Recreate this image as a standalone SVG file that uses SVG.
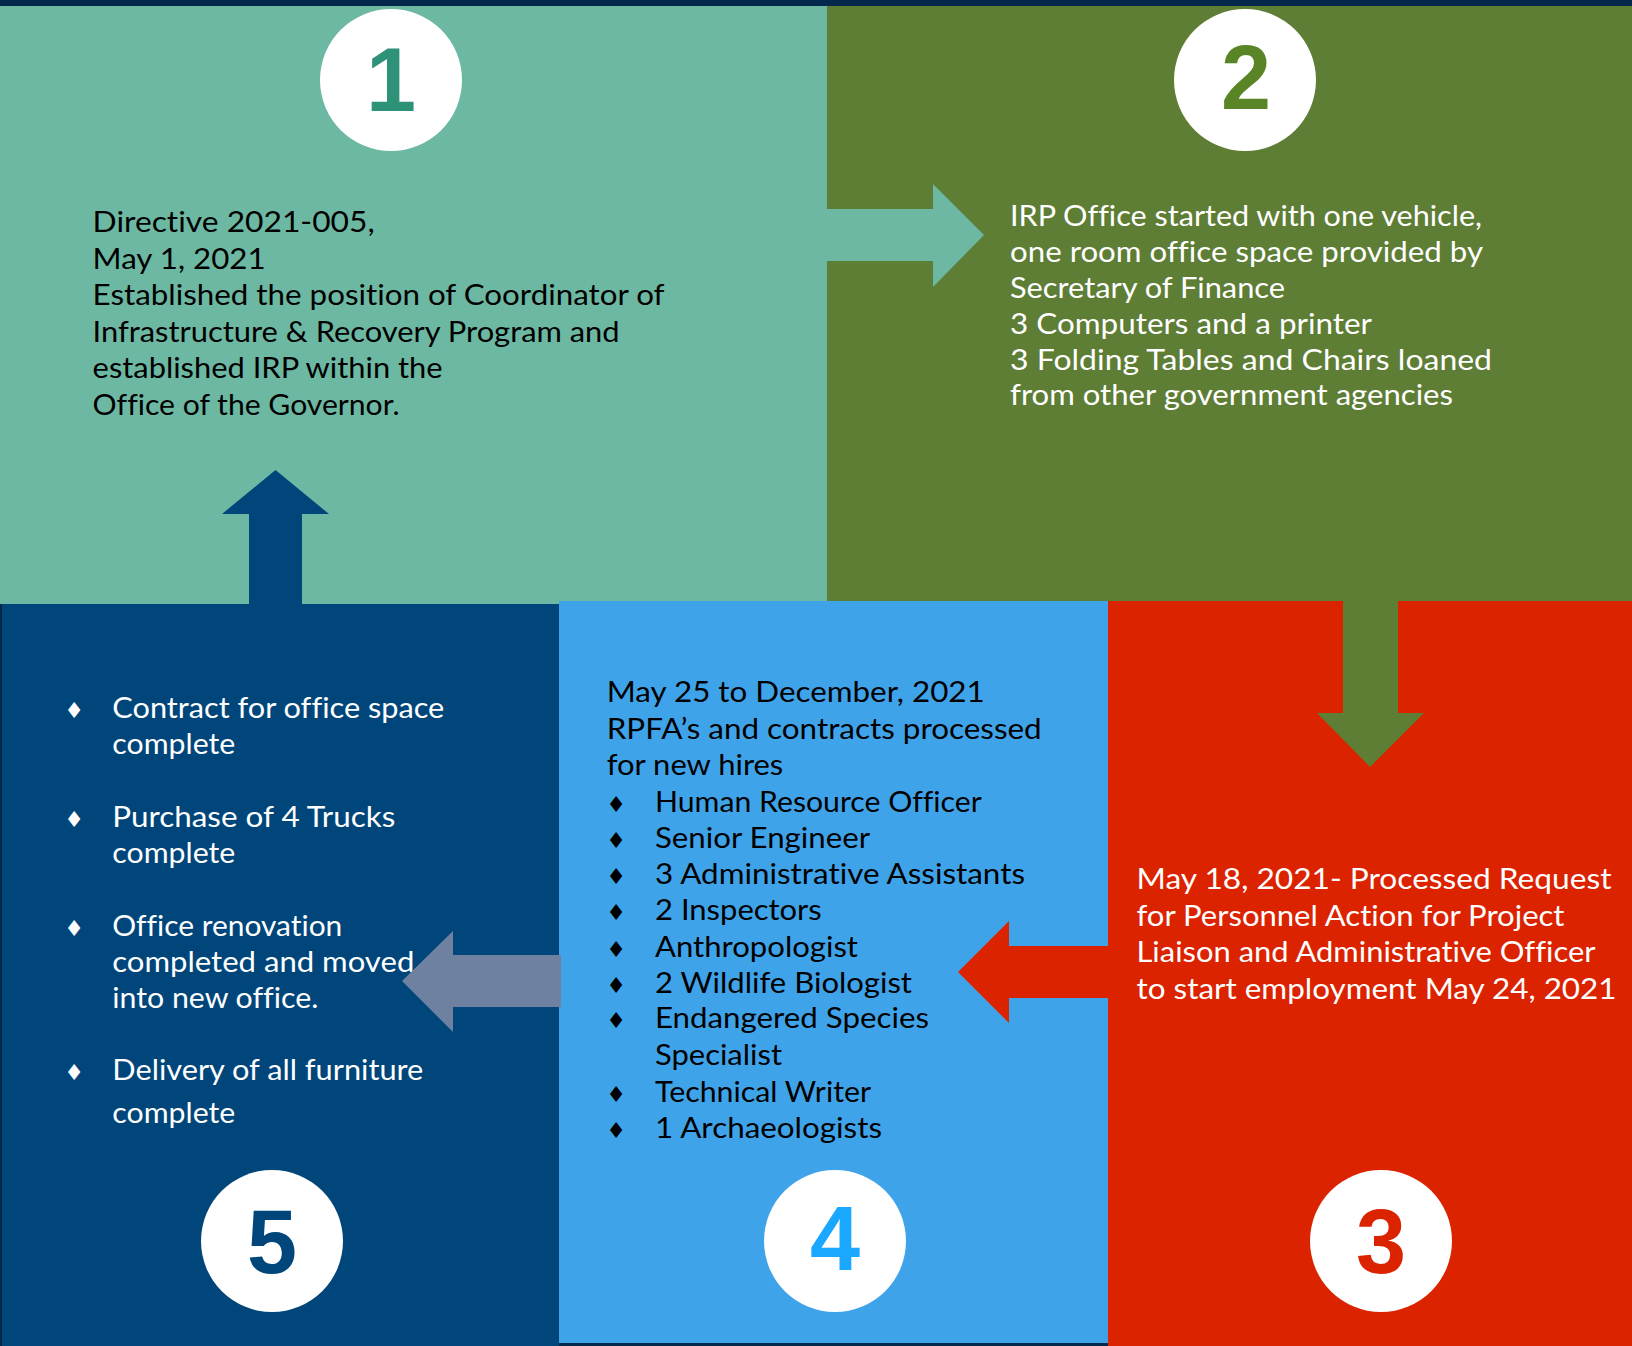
<svg xmlns="http://www.w3.org/2000/svg" width="1632" height="1346" viewBox="0 0 1632 1346">
<style>
.t{font-family:"Lato","Open Sans","Liberation Sans",sans-serif;font-size:29px;font-variant-ligatures:none}
.blk{fill:#000}
.wht{fill:#fff}
.num{font-family:"Liberation Sans",Arial,sans-serif;font-weight:bold;font-size:90px;text-anchor:middle}
.bul{font-family:"DejaVu Sans",sans-serif;font-size:22px;text-anchor:middle}
.circ{fill:#fff}
</style>
<rect x="0" y="0" width="1632" height="1346" fill="#03284C"/>
<g id="node1">
<rect x="0" y="6" width="827" height="598" fill="#6DB8A3"/>
<circle class="circ" cx="391" cy="80" r="71"/>
<text class="num" x="391" y="111" fill="#2E9278">1</text>
<text class="t blk" x="92.6" y="232.3" textLength="282" lengthAdjust="spacingAndGlyphs">Directive 2021-005,</text>
<text class="t blk" x="92.6" y="268.6" textLength="173" lengthAdjust="spacingAndGlyphs">May 1, 2021</text>
<text class="t blk" x="92.6" y="305" textLength="572" lengthAdjust="spacingAndGlyphs">Established the position of Coordinator of</text>
<text class="t blk" x="92.6" y="341.6" textLength="527" lengthAdjust="spacingAndGlyphs">Infrastructure &amp; Recovery Program and</text>
<text class="t blk" x="92.6" y="378.2" textLength="350" lengthAdjust="spacingAndGlyphs">established IRP within the</text>
<text class="t blk" x="92.6" y="414.8" textLength="307" lengthAdjust="spacingAndGlyphs">Office of the Governor.</text>
</g>
<g id="node2">
<rect x="827" y="6" width="805" height="595" fill="#5E7D35"/>
<circle class="circ" cx="1245" cy="80" r="71"/>
<text class="num" x="1246" y="109" fill="#5A8526">2</text>
<text class="t wht" x="1010" y="225.5" textLength="472" lengthAdjust="spacingAndGlyphs">IRP Office started with one vehicle,</text>
<text class="t wht" x="1010" y="262" textLength="473" lengthAdjust="spacingAndGlyphs">one room office space provided by</text>
<text class="t wht" x="1010" y="297.5" textLength="275" lengthAdjust="spacingAndGlyphs">Secretary of Finance</text>
<text class="t wht" x="1010" y="334" textLength="362" lengthAdjust="spacingAndGlyphs">3 Computers and a printer</text>
<text class="t wht" x="1010" y="369.5" textLength="482" lengthAdjust="spacingAndGlyphs">3 Folding Tables and Chairs loaned</text>
<text class="t wht" x="1010" y="405" textLength="443" lengthAdjust="spacingAndGlyphs">from other government agencies</text>
</g>
<g id="node5">
<rect x="2" y="604" width="557" height="742" fill="#00467A"/>
<circle class="circ" cx="272" cy="1241" r="71"/>
<text class="num" x="272" y="1273" fill="#00467A">5</text>
<text class="bul wht" x="74" y="718">♦</text>
<text class="t wht" x="112.3" y="717.7" textLength="332" lengthAdjust="spacingAndGlyphs">Contract for office space</text>
<text class="t wht" x="112.3" y="754" textLength="123" lengthAdjust="spacingAndGlyphs">complete</text>
<text class="bul wht" x="74" y="827">♦</text>
<text class="t wht" x="112.3" y="826.7" textLength="283" lengthAdjust="spacingAndGlyphs">Purchase of 4 Trucks</text>
<text class="t wht" x="112.3" y="862.7" textLength="123" lengthAdjust="spacingAndGlyphs">complete</text>
<text class="bul wht" x="74" y="936">♦</text>
<text class="t wht" x="112.3" y="936" textLength="230" lengthAdjust="spacingAndGlyphs">Office renovation</text>
<text class="t wht" x="112.3" y="971.7" textLength="302" lengthAdjust="spacingAndGlyphs">completed and moved</text>
<text class="t wht" x="112.3" y="1007.7" textLength="206" lengthAdjust="spacingAndGlyphs">into new office.</text>
<text class="bul wht" x="74" y="1080">♦</text>
<text class="t wht" x="112.3" y="1080" textLength="311" lengthAdjust="spacingAndGlyphs">Delivery of all furniture</text>
<text class="t wht" x="112.3" y="1123.3" textLength="123" lengthAdjust="spacingAndGlyphs">complete</text>
</g>
<g id="node4">
<rect x="559" y="601" width="549" height="742" fill="#3FA3EA"/>
<circle class="circ" cx="835" cy="1241" r="71"/>
<text class="num" x="835" y="1270" fill="#1AA7FF">4</text>
<text class="t blk" x="606.7" y="702.3" textLength="378" lengthAdjust="spacingAndGlyphs">May 25 to December, 2021</text>
<text class="t blk" x="606.7" y="739" textLength="435" lengthAdjust="spacingAndGlyphs">RPFA’s and contracts processed</text>
<text class="t blk" x="606.7" y="775" textLength="176.6" lengthAdjust="spacingAndGlyphs">for new hires</text>
<text class="bul blk" x="616" y="812">♦</text>
<text class="t blk" x="655" y="811.7" textLength="326.7" lengthAdjust="spacingAndGlyphs">Human Resource Officer</text>
<text class="bul blk" x="616" y="848">♦</text>
<text class="t blk" x="655" y="847.7" textLength="215" lengthAdjust="spacingAndGlyphs">Senior Engineer</text>
<text class="bul blk" x="616" y="884">♦</text>
<text class="t blk" x="655" y="884.3" textLength="370" lengthAdjust="spacingAndGlyphs">3 Administrative Assistants</text>
<text class="bul blk" x="616" y="920">♦</text>
<text class="t blk" x="655" y="920.3" textLength="166.7" lengthAdjust="spacingAndGlyphs">2 Inspectors</text>
<text class="bul blk" x="616" y="957">♦</text>
<text class="t blk" x="655" y="956.7" textLength="203" lengthAdjust="spacingAndGlyphs">Anthropologist</text>
<text class="bul blk" x="616" y="993">♦</text>
<text class="t blk" x="655" y="993.3" textLength="257" lengthAdjust="spacingAndGlyphs">2 Wildlife Biologist</text>
<text class="bul blk" x="616" y="1028">♦</text>
<text class="t blk" x="655" y="1028.3" textLength="274" lengthAdjust="spacingAndGlyphs">Endangered Species</text>
<text class="t blk" x="655" y="1065" textLength="127" lengthAdjust="spacingAndGlyphs">Specialist</text>
<text class="bul blk" x="616" y="1102">♦</text>
<text class="t blk" x="655" y="1101.7" textLength="216" lengthAdjust="spacingAndGlyphs">Technical Writer</text>
<text class="bul blk" x="616" y="1138">♦</text>
<text class="t blk" x="655" y="1137.7" textLength="227" lengthAdjust="spacingAndGlyphs">1 Archaeologists</text>
</g>
<g id="node3">
<rect x="1108" y="601" width="524" height="745" fill="#DC2300"/>
<circle class="circ" cx="1381" cy="1241" r="71"/>
<text class="num" x="1381" y="1273" fill="#DC2300">3</text>
<text class="t wht" x="1136.5" y="889" textLength="475" lengthAdjust="spacingAndGlyphs">May 18, 2021- Processed Request</text>
<text class="t wht" x="1136.5" y="925.5" textLength="428" lengthAdjust="spacingAndGlyphs">for Personnel Action for Project</text>
<text class="t wht" x="1136.5" y="962" textLength="459" lengthAdjust="spacingAndGlyphs">Liaison and Administrative Officer</text>
<text class="t wht" x="1136.5" y="998.5" textLength="480" lengthAdjust="spacingAndGlyphs">to start employment May 24, 2021</text>
</g>
<g id="connectors">
<polygon id="c1-2" points="820,209 933,209 933,184 984,235 933,287 933,261 820,261" fill="#6DB8A3"/>
<polygon id="c2-3" points="1343,595 1398,595 1398,713 1424,713 1370,767 1317,713 1343,713" fill="#5E7D35"/>
<polygon id="c3-4" points="1112,946 1009,946 1009,921 958,972 1009,1023 1009,998 1112,998" fill="#DC2300"/>
<polygon id="c4-5" points="561,955 453,955 453,931 402,981 453,1032 453,1007 561,1007" fill="#6E81A0"/>
<polygon id="c5-1" points="249,606 249,514 222,514 275.5,470 329,514 302,514 302,606" fill="#00467A"/>
</g>
</svg>
